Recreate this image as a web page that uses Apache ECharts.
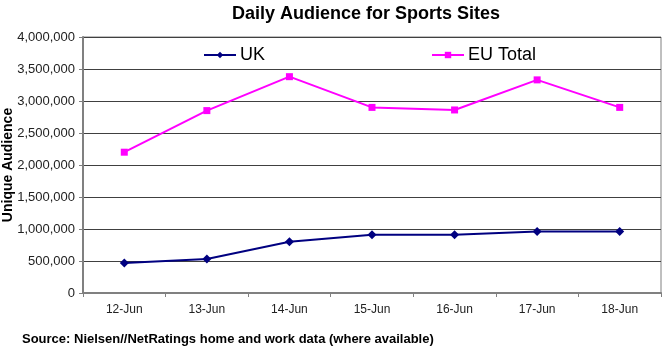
<!DOCTYPE html>
<html>
<head>
<meta charset="utf-8">
<script src="https://cdn.jsdelivr.net/npm/echarts@6/dist/echarts.min.js"></script>
<style>html,body{margin:0;padding:0;background:#fff}#c{width:665px;height:350px}</style>
</head>
<body>
<div id="c"></div>
<script>
var categories = ['12-Jun','13-Jun','14-Jun','15-Jun','16-Jun','17-Jun','18-Jun'];
var ukValues = [470000, 530000, 800000, 910000, 910000, 960000, 960000];
var euValues = [2200000, 2850000, 3380000, 2900000, 2860000, 3330000, 2900000];
var titleText = 'Daily Audience for Sports Sites';
var yAxisName = 'Unique Audience';
var sourceText = 'Source: Nielsen//NetRatings home and work data (where available)';

var chart = echarts.init(document.getElementById('c'), null, {renderer: 'canvas'});
var font = 'Arial, "Liberation Sans", sans-serif';
chart.setOption({
  animation: false,
  backgroundColor: '#fff',
  title: [
    {text: titleText, left: 366, top: 5, textAlign: 'center', padding: 0,
     textStyle: {fontFamily: font, fontSize: 18, fontWeight: 'bold', color: '#000'}},
    {text: sourceText, left: 22, top: 333, padding: 0,
     textStyle: {fontFamily: font, fontSize: 13, fontWeight: 'bold', color: '#000'}}
  ],
  legend: [
    {data: ['UK'], left: 203, top: 46, padding: 0, itemWidth: 32, itemHeight: 8,
     textStyle: {fontFamily: font, fontSize: 18, color: '#000', padding: [0,0,0,-1]}},
    {data: ['EU Total'], left: 431, top: 46, padding: 0, itemWidth: 32, itemHeight: 8,
     textStyle: {fontFamily: font, fontSize: 18, color: '#000', padding: [0,0,0,-1]}}
  ],
  grid: {left: 83, right: 4, top: 37, bottom: 57, show: true, borderColor: '#808080', borderWidth: 1,
         containLabel: false, outerBoundsMode: 'none'},
  xAxis: {
    type: 'category', data: categories, boundaryGap: true,
    axisLine: {lineStyle: {color: '#808080', width: 2}},
    axisTick: {show: true, length: 4, lineStyle: {color: '#808080'}},
    axisLabel: {fontFamily: font, fontSize: 12, color: '#222', margin: 11}
  },
  yAxis: {
    type: 'value', min: 0, max: 4000000, interval: 500000,
    name: yAxisName, nameLocation: 'middle', nameGap: 68, nameMoveOverlap: false,
    nameTextStyle: {fontFamily: font, fontSize: 14, fontWeight: 'bold', color: '#000'},
    axisLine: {show: true, lineStyle: {color: '#808080', width: 2}},
    axisTick: {show: true, length: 4, lineStyle: {color: '#808080'}},
    axisLabel: {fontFamily: font, fontSize: 13, color: '#222', margin: 8,
      formatter: function (v) { return v.toLocaleString('en-US'); }},
    splitLine: {show: true, lineStyle: {color: '#404040', width: 1}}
  },
  series: [
    {name: 'UK', type: 'line', data: ukValues, symbol: 'diamond', symbolSize: 9,
     lineStyle: {color: '#000080', width: 2}, itemStyle: {color: '#000080'}},
    {name: 'EU Total', type: 'line', data: euValues, symbol: 'rect', symbolSize: 7,
     lineStyle: {color: '#FF00FF', width: 2}, itemStyle: {color: '#FF00FF'}}
  ]
});
</script>
</body>
</html>
